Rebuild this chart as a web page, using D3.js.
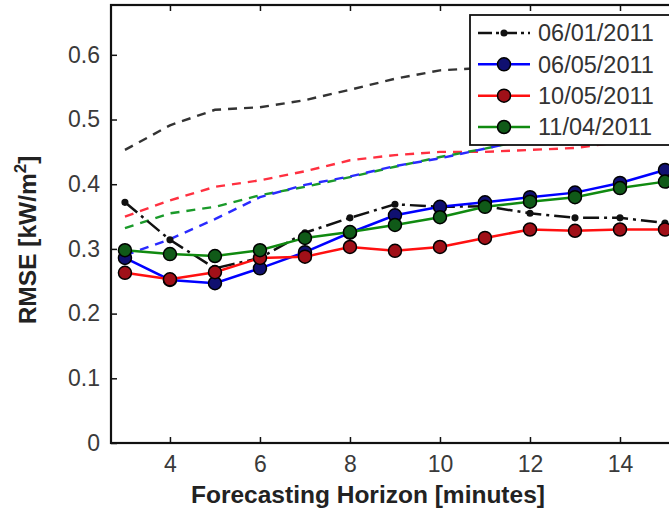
<!DOCTYPE html>
<html>
<head>
<meta charset="utf-8">
<script src="https://cdn.jsdelivr.net/npm/d3@7"></script>
<style>
  body { margin: 0; background: #fff; }
  text { font-family: "Liberation Sans", Arial, sans-serif; }
</style>
</head>
<body>
<div id="chart"></div>
<script>
// forecasting horizon (minutes)
var horizon = [3, 4, 5, 6, 7, 8, 9, 10, 11, 12, 13, 14, 15];

// solid lines with markers
var day0601 = [0.372, 0.314, 0.27, 0.286, 0.325, 0.348, 0.369, 0.365, 0.366, 0.355, 0.348, 0.348, 0.34];
var day0605 = [0.286, 0.252, 0.247, 0.27, 0.295, 0.325, 0.352, 0.365, 0.372, 0.38, 0.387, 0.402, 0.422];
var day1005 = [0.263, 0.253, 0.264, 0.286, 0.288, 0.303, 0.297, 0.303, 0.317, 0.33, 0.328, 0.33, 0.33];
var day1104 = [0.298, 0.292, 0.289, 0.298, 0.317, 0.326, 0.337, 0.349, 0.365, 0.373, 0.38, 0.394, 0.404];

// dashed reference lines
var ref0601 = [0.453, 0.491, 0.515, 0.519, 0.53, 0.546, 0.563, 0.576, 0.58, 0.585, 0.59, 0.595, 0.6];
var ref0605 = [0.29, 0.315, 0.346, 0.38, 0.399, 0.412, 0.428, 0.44, 0.455, 0.47, 0.48, 0.49, 0.5];
var ref1005 = [0.35, 0.375, 0.396, 0.406, 0.42, 0.437, 0.445, 0.45, 0.45, 0.453, 0.456, 0.465, 0.475];
var ref1104 = [0.332, 0.355, 0.365, 0.383, 0.396, 0.411, 0.427, 0.442, 0.455, 0.47, 0.48, 0.49, 0.5];

var legendLabels = ["06/01/2011", "06/05/2011", "10/05/2011", "11/04/2011"];
var xTicks = [4, 6, 8, 10, 12, 14];
var yTicks = [0, 0.1, 0.2, 0.3, 0.4, 0.5, 0.6];

var svgWidth = 669;
var svgHeight = 523;

var plot = { left: 111, top: 5, right: 710, bottom: 443 };

var svg = d3.select("#chart")
  .append("svg")
  .attr("width", svgWidth)
  .attr("height", svgHeight);

var x = d3.scaleLinear().domain([2.69, 16]).range([plot.left, plot.right]);
var y = d3.scaleLinear().domain([0, 0.677]).range([plot.bottom, plot.top]);

svg.append("clipPath").attr("id", "clip")
  .append("rect")
  .attr("x", plot.left).attr("y", plot.top)
  .attr("width", plot.right - plot.left).attr("height", plot.bottom - plot.top);

var series = [
  { vals: ref0601, color: "#333333" },
  { vals: ref1005, color: "#ff3040" },
  { vals: ref1104, color: "#1a9a2a" },
  { vals: ref0605, color: "#2a2aff" }
];

var line = d3.line()
  .x(function(d, i) { return x(horizon[i]); })
  .y(function(d) { return y(d); });

var g = svg.append("g").attr("clip-path", "url(#clip)");

series.forEach(function(s) {
  g.append("path")
    .attr("d", line(s.vals))
    .attr("fill", "none")
    .attr("stroke", s.color)
    .attr("stroke-width", 2.4)
    .attr("stroke-dasharray", "9,7");
});

var solid = [
  { vals: day0601, color: "#111111", dash: "16,5,3,5", marker: 2.8, fill: "#111111", edge: "#111111" },
  { vals: day0605, color: "#0000ff", dash: null, marker: 6.5, fill: "#101070", edge: "#000000" },
  { vals: day1005, color: "#ff1010", dash: null, marker: 6.5, fill: "#a01018", edge: "#000000" },
  { vals: day1104, color: "#108a10", dash: null, marker: 6.5, fill: "#105a18", edge: "#000000" }
];

solid.forEach(function(s) {
  g.append("path")
    .attr("d", line(s.vals))
    .attr("fill", "none")
    .attr("stroke", s.color)
    .attr("stroke-width", 2.5)
    .attr("stroke-dasharray", s.dash);
  g.selectAll(null)
    .data(s.vals)
    .enter()
    .append("circle")
    .attr("cx", function(d, i) { return x(horizon[i]); })
    .attr("cy", function(d) { return y(d); })
    .attr("r", s.marker)
    .attr("fill", s.fill)
    .attr("stroke", s.edge)
    .attr("stroke-width", 1.5);
});

// axes with inward ticks
var bottomAxis = d3.axisBottom(x).tickValues(xTicks).tickSize(-6).tickPadding(13);
var leftAxis = d3.axisLeft(y).tickValues(yTicks).tickSize(-6).tickPadding(11).tickFormat(d3.format(""));

var xAxis = svg.append("g")
  .attr("transform", "translate(0," + plot.bottom + ")")
  .call(bottomAxis);
var yAxis = svg.append("g")
  .attr("transform", "translate(" + plot.left + ",0)")
  .call(leftAxis);
var topAxis = svg.append("g")
  .attr("transform", "translate(0," + plot.top + ")")
  .call(d3.axisTop(x).tickValues(xTicks).tickSize(-6).tickFormat(""));

[xAxis, yAxis, topAxis].forEach(function(a) {
  a.select(".domain").remove();
  a.selectAll(".tick line").attr("stroke", "#111").attr("stroke-width", 1.5);
  a.selectAll(".tick text")
    .attr("fill", "#3a3a3a")
    .style("font-size", "23px")
    .style("font-family", "'Liberation Sans', Arial, sans-serif");
});

// frame
svg.append("rect")
  .attr("x", plot.left).attr("y", plot.top)
  .attr("width", plot.right - plot.left).attr("height", plot.bottom - plot.top)
  .attr("fill", "none")
  .attr("stroke", "#111")
  .attr("stroke-width", 2.2);

// axis titles
svg.append("text")
  .attr("x", 368)
  .attr("y", 503)
  .attr("text-anchor", "middle")
  .style("font-size", "24.5px")
  .style("font-weight", "bold")
  .attr("fill", "#222")
  .text("Forecasting Horizon [minutes]");

var yTitle = svg.append("text")
  .attr("transform", "translate(36,240) rotate(-90)")
  .attr("text-anchor", "middle")
  .style("font-size", "24.5px")
  .style("font-weight", "bold")
  .attr("fill", "#222");
yTitle.append("tspan").text("RMSE [kW/m");
yTitle.append("tspan").attr("dy", -10).style("font-size", "17px").text("2");
yTitle.append("tspan").attr("dy", 10).text("]");

// legend
var legend = svg.append("g").attr("transform", "translate(470,15)");
legend.append("rect")
  .attr("width", 210).attr("height", 130)
  .attr("fill", "#fff")
  .attr("stroke", "#111")
  .attr("stroke-width", 1.8);

var rowY = d3.scaleLinear().domain([0, 3]).range([18, 112]);

solid.forEach(function(s, i) {
  var row = legend.append("g").attr("transform", "translate(0," + rowY(i) + ")");
  row.append("line")
    .attr("x1", 8).attr("x2", 60)
    .attr("stroke", s.color)
    .attr("stroke-width", 2.5)
    .attr("stroke-dasharray", i === 0 ? "14,4,3,4" : null);
  row.append("circle")
    .attr("cx", 34).attr("r", s.marker)
    .attr("fill", s.fill)
    .attr("stroke", s.edge)
    .attr("stroke-width", 1.5);
  row.append("text")
    .attr("x", 68)
    .attr("dy", "0.36em")
    .style("font-size", "23.5px")
    .attr("fill", "#333")
    .text(legendLabels[i]);
});
</script>
</body>
</html>
